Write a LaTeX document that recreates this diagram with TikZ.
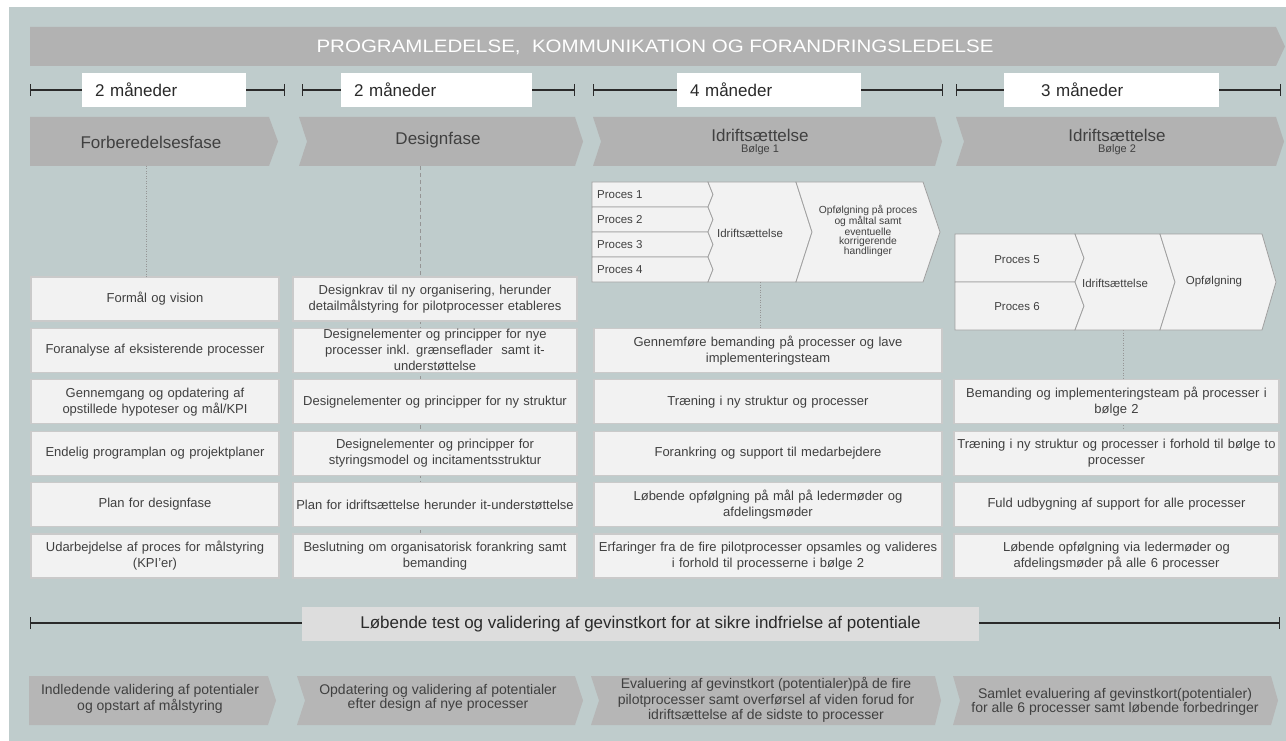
\documentclass[tikz,border=0pt]{standalone}
\usepackage{fontspec}
\setmainfont{Liberation Sans}
\newfontfamily\bannerfont[FakeStretch=1.14]{Liberation Sans}
\usetikzlibrary{arrows.meta}
\definecolor{bg}{HTML}{BFCCCC}
\definecolor{chev}{HTML}{B2B2B2}
\definecolor{chevb}{HTML}{B6B6B6}
\definecolor{boxfill}{HTML}{F2F2F2}
\definecolor{boxline}{HTML}{CACACA}
\definecolor{txt}{HTML}{404040}
\definecolor{dark}{HTML}{2A2A2A}
\definecolor{procline}{HTML}{A0A0A0}
\definecolor{testfill}{HTML}{DDDDDD}
\definecolor{dotc}{HTML}{959595}
\newcommand\mychev[7]{%
  \fill[#7] (#1,#4) -- (#2,#4) -- ({#2+#3},{(#4+#5)/2}) -- (#2,#5) -- (#1,#5) -- ({#1+#6},{(#4+#5)/2}) -- cycle;}
\begin{document}
\begin{tikzpicture}[x=1pt,y=-1pt,
  box/.style={draw=boxline, fill=boxfill, line width=1.2pt, align=center, inner sep=0pt,
    text=txt, font=\fontsize{13}{16}\selectfont, minimum height=44},
  col1/.style={box, minimum width=248, text width=244},
  col2/.style={box, minimum width=284, text width=280},
  col3/.style={box, minimum width=348, text width=344},
  col4/.style={box, minimum width=325, text width=321},
  phase/.style={text=txt, font=\fontsize{17}{19}\selectfont, inner sep=0pt},
  wave/.style={text=txt, font=\fontsize{11}{12}\selectfont, inner sep=0pt},
  tl/.style={draw=dark, line width=1.2pt, {Bar[width=12pt]}-{Bar[width=12pt]}},
  tbox/.style={fill=white, inner sep=0pt, minimum height=34, align=left,
    text=dark, font=\fontsize{17}{19}\selectfont},
  proc/.style={fill=boxfill, draw=procline, line width=0.8pt, line join=miter},
  ptxt/.style={text=txt, font=\fontsize{11.5}{13}\selectfont, inner sep=0pt},
  btxt/.style={text=txt, font=\fontsize{14}{15.5}\selectfont, align=center, inner sep=0pt},
  dotl/.style={draw=dotc, line width=0.8pt, dash pattern=on 1pt off 1.5pt},
  dashl/.style={draw=dotc, line width=0.9pt, dash pattern=on 4pt off 3pt}]
\useasboundingbox (0,0) rectangle (1286,741);
\fill[bg] (9,7) rectangle (1286,741);

% banner
\mychev{30}{1276}{9}{27}{66}{0}{chev}
\node[text=white, font=\bannerfont\fontsize{18}{20}\selectfont, inner sep=0pt] (banner) at (655,47)
  {PROGRAMLEDELSE,\ \ KOMMUNIKATION OG FORANDRINGSLEDELSE};

% duration timelines
\coordinate (t1a) at (30,90);  \coordinate (t1b) at (285,90);
\coordinate (t2a) at (302,90); \coordinate (t2b) at (575,90);
\coordinate (t3a) at (593,90); \coordinate (t3b) at (943,90);
\coordinate (t4a) at (956,90); \coordinate (t4b) at (1281,90);
\draw[tl] (t1a) -- (t1b);
\draw[tl] (t2a) -- (t2b);
\draw[tl] (t3a) -- (t3b);
\draw[tl] (t4a) -- (t4b);
\node[tbox, minimum width=164, text width=138] (m1) at (164,90) {2 måneder};
\node[tbox, minimum width=191, text width=165] (m2) at (436.5,90) {2 måneder};
\node[tbox, minimum width=184, text width=158] (m3) at (769,90) {4 måneder};
\node[tbox, minimum width=215, text width=141] (m4) at (1111.5,90) {3 måneder};

% phase chevrons
\mychev{30}{269}{9}{117}{166}{0}{chev}
\mychev{299}{575}{8}{117}{166}{8}{chev}
\mychev{593}{935}{7}{117}{166}{8}{chev}
\mychev{956}{1276}{8}{117}{166}{8}{chev}
\node[phase] (p1) at (151,142) {Forberedelsesfase};
\node[phase] (p2) at (438,140) {Designfase};
\node[phase] (p3) at (760,135) {Idriftsættelse};
\node[wave] (p3w) at (760,150) {Bølge 1};
\node[phase] (p4) at (1117,135) {Idriftsættelse};
\node[wave] (p4w) at (1117,150) {Bølge 2};

% guide lines (behind boxes)
\coordinate (g1) at (146,166);
\coordinate (g2) at (420,166);
\coordinate (g3) at (760,282);
\coordinate (g4) at (1123,330);
\draw[dashl] (g2) -- (420,578);
\draw[dotl] (g4) -- (1123,430);

% process block 1
\foreach \k in {0,1,2,3}{
  \pgfmathsetmacro\t{182+25*\k}
  \pgfmathsetmacro\b{207+25*\k}
  \pgfmathsetmacro\m{194.5+25*\k}
  \filldraw[proc] (592,\t) -- (708,\t) -- (713,\m) -- (708,\b) -- (592,\b) -- cycle;
}
\filldraw[proc] (708,182) -- (796,182) -- (812,232) -- (796,282) -- (708,282) -- (713,269.5) -- (708,257)
  -- (713,244.5) -- (708,232) -- (713,219.5) -- (708,207) -- (713,194.5) -- cycle;
\filldraw[proc] (796,182) -- (923,182) -- (940,232) -- (923,282) -- (796,282) -- (812,232) -- cycle;
\node[ptxt, anchor=west] (pr1) at (597,195) {Proces 1};
\node[ptxt, anchor=west] (pr2) at (597,220) {Proces 2};
\node[ptxt, anchor=west] (pr3) at (597,245) {Proces 3};
\node[ptxt, anchor=west] (pr4) at (597,270) {Proces 4};
\node[ptxt] (id1) at (750,233) {Idriftsættelse};
\node[text=txt, font=\fontsize{10.3}{8.8}\selectfont, align=center, inner sep=0pt] (op1) at (868,231)
  {Opfølgning på proces\\og måltal samt\\eventuelle\\korrigerende\\handlinger};

% process block 2
\filldraw[proc] (955,234) -- (1075,234) -- (1084,258) -- (1075,282) -- (955,282) -- cycle;
\filldraw[proc] (955,282) -- (1075,282) -- (1084,306) -- (1075,330) -- (955,330) -- cycle;
\filldraw[proc] (1075,234) -- (1160,234) -- (1175,282) -- (1160,330) -- (1075,330) -- (1084,306)
  -- (1075,282) -- (1084,258) -- cycle;
\filldraw[proc] (1160,234) -- (1262,234) -- (1276,282) -- (1262,330) -- (1160,330) -- (1175,282) -- cycle;
\node[ptxt] (pr5) at (1017,260) {Proces 5};
\node[ptxt] (pr6) at (1017,307) {Proces 6};
\node[ptxt] (id2) at (1115,283) {Idriftsættelse};
\node[ptxt] (op2) at (1214,282) {Opfølgning};

% column 1
\node[col1] (a1) at (155,299)   {Formål og vision};
\node[col1] (a2) at (155,350.4) {Foranalyse af eksisterende processer};
\node[col1] (a3) at (155,401.8) {Gennemgang og opdatering af\\opstillede hypoteser og mål/KPI};
\node[col1] (a4) at (155,453.2) {Endelig programplan og projektplaner};
\node[col1] (a5) at (155,504.6) {Plan for designfase};
\node[col1] (a6) at (155,556)   {Udarbejdelse af proces for målstyring\\(KPI’er)};
% column 2
\node[col2] (b1) at (435,299)   {Designkrav til ny organisering, herunder\\detailmålstyring for pilotprocesser etableres};
\node[col2] (b2) at (435,350.4) {Designelementer og principper for nye\\processer inkl. grænseflader\ \ samt it-\\understøttelse};
\node[col2] (b3) at (435,401.8) {Designelementer og principper for ny struktur};
\node[col2] (b4) at (435,453.2) {Designelementer og principper for\\styringsmodel og incitamentsstruktur};
\node[col2] (b5) at (435,504.6) {Plan for idriftsættelse herunder it-understøttelse};
\node[col2] (b6) at (435,556)   {Beslutning om organisatorisk forankring samt\\bemanding};
% column 3
\node[col3] (c2) at (768,350.4) {Gennemføre bemanding på processer og lave\\implementeringsteam};
\node[col3] (c3) at (768,401.8) {Træning i ny struktur og processer};
\node[col3] (c4) at (768,453.2) {Forankring og support til medarbejdere};
\node[col3] (c5) at (768,504.6) {Løbende opfølgning på mål på ledermøder og\\afdelingsmøder};
\node[col3] (c6) at (768,556)   {Erfaringer fra de fire pilotprocesser opsamles og valideres\\i forhold til processerne i bølge 2};
% column 4
\node[col4] (d3) at (1116.5,401.8) {Bemanding og implementeringsteam på processer i\\bølge 2};
\node[col4] (d4) at (1116.5,453.2) {Træning i ny struktur og processer i forhold til bølge to\\processer};
\node[col4] (d5) at (1116.5,504.6) {Fuld udbygning af support for alle processer};
\node[col4] (d6) at (1116.5,556)   {Løbende opfølgning via ledermøder og\\afdelingsmøder på alle 6 processer};

% guide lines in front
\draw[dotl] (g1) -- (g1 |- a1.north);
\draw[dotl] (g3) -- (g3 |- c2.north);

% test line
\coordinate (ta) at (30,623); \coordinate (tb) at (1280,623);
\draw[tl] (ta) -- (tb);
\node[fill=testfill, inner sep=0pt, minimum width=677, minimum height=34, text=dark,
  font=\fontsize{17}{19}\selectfont] (test) at (640.5,624)
  {Løbende test og validering af gevinstkort for at sikre indfrielse af potentiale};

% bottom chevrons
\mychev{29}{268}{8}{676}{725}{0}{chevb}
\mychev{297}{575}{8}{676}{725}{8}{chevb}
\mychev{591}{935}{6}{676}{725}{8}{chevb}
\mychev{953}{1271}{7}{676}{725}{7}{chevb}
\node[btxt] (e1) at (150,699) {Indledende validering af potentialer\\og opstart af målstyring};
\node[btxt, font=\fontsize{14}{12.5}\selectfont] (e2) at (438,698) {Opdatering og validering af potentialer\\efter design af nye processer};
\node[btxt] (e3) at (766,700) {Evaluering af gevinstkort (potentialer)på de fire\\pilotprocesser samt overførsel af viden forud for\\idriftsættelse af de sidste to processer};
\node[btxt, font=\fontsize{14}{13}\selectfont] (e4) at (1115,702) {Samlet evaluering af gevinstkort(potentialer)\\for alle 6 processer samt løbende forbedringer};
\end{tikzpicture}
\end{document}
